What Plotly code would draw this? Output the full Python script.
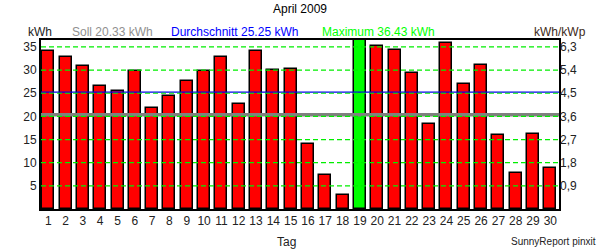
import plotly.graph_objects as go

days = list(range(1, 31))
values = [34.16, 32.87, 30.93, 26.55, 25.54, 29.78, 21.81, 24.40, 27.63, 29.78,
          32.87, 22.74, 34.16, 30.06, 30.28, 14.05, 7.44, 3.13, 36.43, 35.24,
          34.38, 29.42, 18.36, 35.82, 27.05, 31.14, 15.99, 7.80, 16.21, 8.94]
soll = 20.33
avg = 25.25
vmax = 36.43
left_ticks = [5, 10, 15, 20, 25, 30, 35]
right_ticklabels = ["0,9", "1,8", "2,7", "3,6", "4,5", "5,4", "6,3"]
title_text = "April 2009"

colors = ["#00ff00" if v == vmax else "#ff0000" for v in values]
FONT = "Liberation Sans, Arial, sans-serif"
yr = [0, 36.5]

fig = go.Figure()
fig.add_trace(go.Bar(x=days, y=values, width=0.69, marker=dict(color=colors, line=dict(color="black", width=1.5)),
                     showlegend=False))
fig.add_trace(go.Scatter(x=[1], y=[0], yaxis="y2", mode="markers", marker=dict(opacity=0), showlegend=False, hoverinfo="skip"))

fig.add_shape(type="line", xref="paper", x0=0, x1=1, yref="y", y0=soll, y1=soll, line=dict(color="#808080", width=3.5), layer="above")
fig.add_shape(type="line", xref="paper", x0=0, x1=1, yref="y", y0=avg, y1=avg, line=dict(color="#0000ee", width=1.2), layer="above")
for t in left_ticks:
    fig.add_shape(type="line", xref="paper", x0=0, x1=1, yref="y", y0=t, y1=t,
                  line=dict(color="#00ee00", width=1.2, dash="5px,3px"), layer="above")

ann = [
    dict(text=title_text, x=0.5, y=1.183, xanchor="center", color="#000000", size=12),
    dict(text="kWh", x=-0.002, y=1.047, xanchor="center", color="#222222", size=12),
    dict(text="Soll 20.33 kWh", x=0.056, y=1.047, xanchor="left", color="#909090", size=12),
    dict(text="Durchschnitt 25.25 kWh", x=0.247, y=1.047, xanchor="left", color="#0000ff", size=12),
    dict(text="Maximum 36.43 kWh", x=0.539, y=1.047, xanchor="left", color="#00ff00", size=12),
    dict(text="kWh/kWp", x=1.002, y=1.047, xanchor="center", color="#402a18", size=12),
    dict(text="Tag", x=0.473, y=-0.195, xanchor="center", color="#222222", size=12),
    dict(text="SunnyReport pinxit", x=1.075, y=-0.195, xanchor="right", color="#222222", size=10),
]
for a in ann:
    fig.add_annotation(text=a["text"], x=a["x"], y=a["y"], xref="paper", yref="paper", xanchor=a["xanchor"],
                       yanchor="middle", showarrow=False, font=dict(family=FONT, size=a["size"], color=a["color"]))

fig.update_layout(
    width=600, height=250, margin=dict(l=41, r=41, t=40, b=41),
    paper_bgcolor="white", plot_bgcolor="white", bargap=0,
    font=dict(family=FONT, size=12, color="#222222"),
    xaxis=dict(range=[0.58, 30.5], tickvals=days, ticktext=[str(d) for d in days], showgrid=False,
               showline=True, linecolor="black", linewidth=2, mirror=True, ticks="", zeroline=False,
               tickfont=dict(size=12, color="#222222")),
    yaxis=dict(range=yr, tickvals=left_ticks, showgrid=False,
               showline=True, linecolor="black", linewidth=2, mirror=True, ticks="", zeroline=False,
               tickfont=dict(size=12, color="#222222")),
    yaxis2=dict(range=yr, overlaying="y", side="right", tickvals=left_ticks, ticktext=right_ticklabels,
                showgrid=False, zeroline=False, ticks="", tickfont=dict(size=12, color="#222222")),
)
fig.write_html("out.html")
